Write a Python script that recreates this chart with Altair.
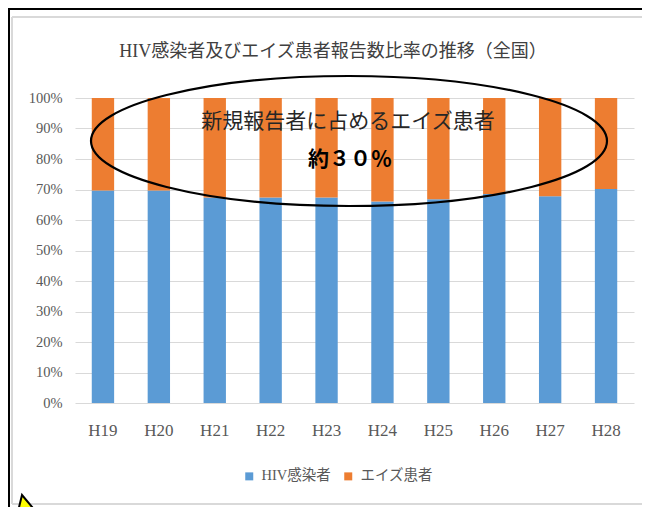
import altair as alt
import pandas as pd

years = ["H19", "H20", "H21", "H22", "H23", "H24", "H25", "H26", "H27", "H28"]
hiv_pct = [69.7, 69.7, 67.4, 67.4, 67.4, 66.1, 66.8, 68.5, 67.8, 70.2]
aids_pct = [round(100 - v, 1) for v in hiv_pct]
series = ["HIV感染者", "エイズ患者"]
colors = ["#5B9BD5", "#ED7D31"]
title_text = "HIV感染者及びエイズ患者報告数比率の推移（全国）"
note_line1 = "新規報告者に占めるエイズ患者"
note_line2 = "約３０％"

rows = []
for y, h, a in zip(years, hiv_pct, aids_pct):
    rows.append({"year": y, "series": series[0], "value": h, "idx": 0})
    rows.append({"year": y, "series": series[1], "value": a, "idx": 1})
df = pd.DataFrame(rows)

W, H = 559, 305
SERIF = "Liberation Serif, Noto Sans CJK JP"
GRAY = "#595959"

bars = alt.Chart(df).mark_bar().encode(
    x=alt.X("year:N", sort=years,
            scale=alt.Scale(paddingInner=0.6, paddingOuter=0.3),
            axis=alt.Axis(title=None, labelAngle=0, ticks=False, domain=False,
                          labelFont=SERIF, labelFontSize=17, labelColor=GRAY,
                          labelPadding=19)),
    y=alt.Y("value:Q", stack="normalize",
            scale=alt.Scale(domain=[0, 1]),
            axis=alt.Axis(title=None, format=".0%", values=[i / 10 for i in range(11)],
                          ticks=False, domain=False, gridColor="#D9D9D9",
                          labelFont=SERIF, labelFontSize=14.5, labelColor=GRAY,
                          labelPadding=13)),
    color=alt.Color("series:N", sort=series,
                    scale=alt.Scale(domain=series, range=colors),
                    legend=alt.Legend(title=None, orient="none", direction="horizontal",
                                      legendX=167, legendY=371, symbolType="square",
                                      symbolSize=64, symbolStrokeWidth=0,
                                      labelFont=SERIF, labelFontSize=14.5, labelColor=GRAY,
                                      labelOffset=5, columnPadding=10, padding=0)),
    order=alt.Order("idx:Q", sort="ascending"),
)

one = pd.DataFrame({"k": [0]})

ellipse_path = ("M -1 0 C -1 -0.139 -0.5523 -0.252 0 -0.252 "
                "C 0.5523 -0.252 1 -0.139 1 0 "
                "C 1 0.139 0.5523 0.252 0 0.252 "
                "C -0.5523 0.252 -1 0.139 -1 0 Z")
ellipse = alt.Chart(one).mark_point(
    shape=ellipse_path, filled=False, stroke="black", strokeWidth=2.2,
    opacity=1, size=516 * 516,
).encode(x=alt.value(274), y=alt.value(43))

note1 = alt.Chart(pd.DataFrame({"t": [note_line1]})).mark_text(
    font="Noto Sans CJK JP", fontSize=21, color="#262626", align="center", baseline="middle"
).encode(text="t:N", x=alt.value(273), y=alt.value(24))

note2 = alt.Chart(pd.DataFrame({"t": [note_line2]})).mark_text(
    font="Noto Sans CJK JP", fontSize=21, fontWeight="bold", color="black",
    align="center", baseline="middle"
).encode(text="t:N", x=alt.value(275), y=alt.value(62))

title = alt.Chart(pd.DataFrame({"t": [title_text]})).mark_text(
    font=SERIF, fontSize=18, color="#404040", align="center", baseline="middle"
).encode(text="t:N", x=alt.value(258), y=alt.value(-46))

black_left = alt.Chart(one).mark_rule(color="black", strokeWidth=2).encode(
    x=alt.value(-66), y=alt.value(-90), y2=alt.value(412))
black_top = alt.Chart(one).mark_rule(color="black", strokeWidth=2).encode(
    x=alt.value(-67), x2=alt.value(570), y=alt.value(-89))
gray_left = alt.Chart(one).mark_rule(color="#D9D9D9", strokeWidth=2).encode(
    x=alt.value(-63), y=alt.value(-81), y2=alt.value(406))
gray_top = alt.Chart(one).mark_rule(color="#D9D9D9", strokeWidth=2).encode(
    x=alt.value(-63), x2=alt.value(570), y=alt.value(-81))
gray_bottom = alt.Chart(one).mark_rule(color="#D9D9D9", strokeWidth=2).encode(
    x=alt.value(-63), x2=alt.value(570), y=alt.value(406))

tri_path = "M -0.3 -0.85 L -0.75 1 L 1 0.7 Z"
triangle = alt.Chart(one).mark_point(
    shape=tri_path, filled=True, fill="#FFFF00", stroke="black", strokeWidth=2,
    opacity=1, size=1600,
).encode(x=alt.value(-47), y=alt.value(414))

chart = alt.layer(
    gray_left, gray_top, gray_bottom, black_left, black_top,
    bars, ellipse, note1, note2, title, triangle,
).properties(
    width=W, height=H,
    autosize=alt.AutoSizeParams(type="none"),
    padding={"left": 67, "top": 90, "right": 8, "bottom": 104},
    background="white",
).configure_view(stroke=None)

chart.save("out.html", embed_options={"renderer": "svg", "actions": False})
